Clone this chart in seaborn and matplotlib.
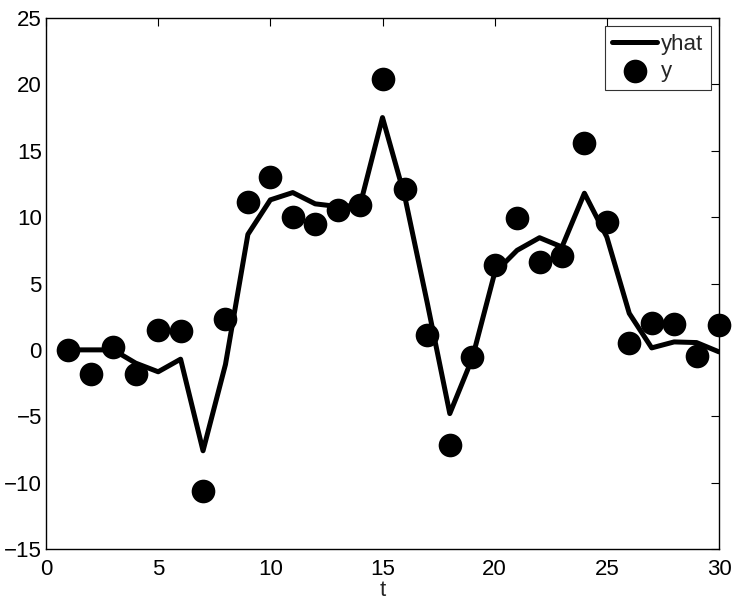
import matplotlib
matplotlib.use("Agg")
import matplotlib.pyplot as plt
import seaborn as sns
import numpy as np
import pandas as pd

t = list(range(1, 31))
y = [0.0, -1.8, 0.2, -1.8, 1.5, 1.45, -10.6, 2.3, 11.15, 13.0,
     10.0, 9.5, 10.5, 10.9, 20.4, 12.1, 1.1, -7.2, -0.55, 6.4,
     9.9, 6.65, 7.1, 15.6, 9.65, 0.5, 2.0, 1.95, -0.47, 1.9]
yhat = [0.0, 0.0, 0.0, -1.0, -1.65, -0.7, -7.6, -1.1, 8.7, 11.3,
        11.85, 11.0, 10.8, 10.9, 17.5, 11.5, 3.5, -4.8, -0.65, 5.8,
        7.5, 8.45, 7.75, 11.8, 8.5, 2.75, 0.15, 0.6, 0.55, -0.15]
xticks = [0, 5, 10, 15, 20, 25, 30]
yticks = [-15, -10, -5, 0, 5, 10, 15, 20, 25]

df = pd.DataFrame({"t": t, "y": y, "yhat": yhat})

sns.set_style("white")
plt.rcParams["font.family"] = ["Liberation Sans", "DejaVu Sans"]
plt.rcParams["xtick.direction"] = "in"
plt.rcParams["ytick.direction"] = "in"

fig = plt.figure(figsize=(7.47, 6.10), dpi=100)
ax = fig.add_axes([46/747, 1-549/610, (719-46)/747, (549-18)/610])

sns.lineplot(data=df, x="t", y="yhat", ax=ax, color="black", linewidth=3.6, label="yhat")
sns.scatterplot(data=df, x="t", y="y", ax=ax, color="black", s=290, linewidth=0,
                label="y", zorder=3, clip_on=False)

ax.set_xlim(0, 30)
ax.set_ylim(-15, 25)
ax.set_xticks(xticks)
ax.set_yticks(yticks)
ax.set_xticklabels([str(v) for v in xticks])
ax.set_yticklabels([str(v).replace("-", "\u2212") for v in yticks])
ax.tick_params(axis="both", which="both", direction="in", top=True, right=True,
               length=6, width=0.8, labelsize=16, colors="black")
ax.tick_params(axis="x", pad=7)
ax.tick_params(axis="y", pad=3)
for s in ax.spines.values():
    s.set_color("black")
    s.set_linewidth(1.0)
ax.set_xlabel("t", fontsize=16, labelpad=0)
ax.set_ylabel("")

leg = ax.legend(loc="upper right", fontsize=16, frameon=True, fancybox=False,
                edgecolor="#333333", framealpha=1, borderaxespad=0.35,
                handlelength=2.0, handletextpad=0.2, labelspacing=0.3, borderpad=0.35,
                markerscale=1.0)
leg.get_frame().set_linewidth(0.8)

fig.savefig("out.png", dpi=100)
